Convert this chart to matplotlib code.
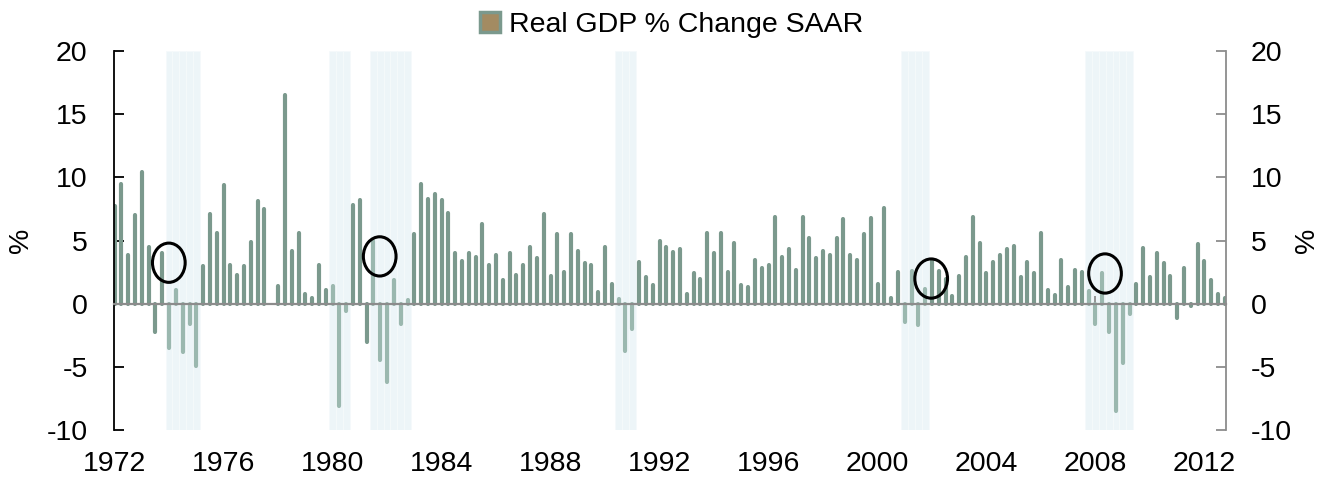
import matplotlib
matplotlib.use('Agg')
import matplotlib.pyplot as plt
from matplotlib.patches import Ellipse, Patch
import numpy as np

plt.rcParams['font.family'] = ['Liberation Sans', 'DejaVu Sans']
plt.rcParams['axes.unicode_minus'] = False

# Real GDP % change SAAR, quarterly 1972Q1 .. 2012Q4
first_year = 1972
gdp = [
    7.7, 9.5, 3.9, 7.0,     # 1972
    10.4, 4.5, -2.2, 4.0,   # 1973
    -3.5, 1.1, -3.8, -1.6,  # 1974
    -4.9, 3.0, 7.1, 5.6,    # 1975
    9.4, 3.1, 2.3, 3.0,     # 1976
    4.9, 8.1, 7.5, 0.0,     # 1977
    1.4, 16.5, 4.2, 5.6,    # 1978
    0.8, 0.5, 3.1, 1.1,     # 1979
    1.4, -8.1, -0.6, 7.8,   # 1980
    8.2, -3.0, 5.0, -4.4,   # 1981
    -6.2, 1.9, -1.6, 0.3,   # 1982
    5.5, 9.5, 8.3, 8.7,     # 1983
    8.2, 7.2, 4.0, 3.4,     # 1984
    4.0, 3.7, 6.3, 3.1,     # 1985
    3.9, 1.9, 4.0, 2.3,     # 1986
    3.1, 4.5, 3.6, 7.1,     # 1987
    2.2, 5.5, 2.5, 5.5,     # 1988
    4.2, 3.2, 3.1, 0.9,     # 1989
    4.5, 1.6, 0.4, -3.7,    # 1990
    -2.0, 3.3, 2.1, 1.5,    # 1991
    5.0, 4.5, 4.1, 4.3,     # 1992
    0.8, 2.4, 2.0, 5.6,     # 1993
    4.0, 5.6, 2.5, 4.8,     # 1994
    1.5, 1.3, 3.5, 2.8,     # 1995
    3.1, 6.9, 3.7, 4.3,     # 1996
    2.7, 6.9, 5.2, 3.6,     # 1997
    4.2, 3.9, 5.2, 6.7,     # 1998
    3.9, 3.5, 5.5, 6.8,     # 1999
    1.6, 7.6, 0.5, 2.5,     # 2000
    -1.4, 2.6, -1.7, 1.2,   # 2001
    3.4, 2.6, 2.0, 0.6,     # 2002
    2.2, 3.7, 6.9, 4.8,     # 2003
    2.4, 3.3, 3.9, 4.3,     # 2004
    4.6, 2.1, 3.3, 2.4,     # 2005
    5.6, 1.1, 0.7, 3.5,     # 2006
    1.3, 2.7, 2.5, 1.0,     # 2007
    -1.6, 2.4, -2.2, -8.5,  # 2008
    -4.7, -0.8, 1.6, 4.4,   # 2009
    2.1, 4.0, 3.2, 2.2,     # 2010
    -1.1, 2.8, -0.2, 4.7,   # 2011
    3.4, 1.9, 0.8, 0.5,     # 2012
]

# recessions, as (first quarter, last quarter)
recessions = [(1974.0, 1975.0), (1980.0, 1980.5), (1981.5, 1982.75),
              (1990.5, 1991.0), (2001.0, 2001.75), (2007.75, 2009.25)]

# circled quarters (annotation ellipses): centre x, centre y
circles = [(1973.99, 3.25), (1981.73, 3.75), (2001.97, 2.0), (2008.35, 2.4)]

year_ticks = list(range(1972, 2013, 4))

dark = '#7b998d'
light = '#9bb8af'
band = '#edf5f8'
fs = 20.5

x = first_year + np.arange(len(gdp)) / 4.0
y = np.array(gdp)
in_rec = np.zeros(len(gdp), dtype=bool)
for a, b in recessions:
    in_rec |= (x >= a - 1e-6) & (x <= b + 1e-6)

fig = plt.figure(figsize=(13.17, 4.79), dpi=100)
ax = fig.add_axes([0.0866, 0.1013, 0.8443, 0.7929])

# recession shading, one column per quarter
rq = x[in_rec]
ax.bar(rq, 30, bottom=-10, width=0.25, color=band, edgecolor='#f5fafb',
       linewidth=0.6, zorder=0)

lc1 = ax.vlines(x[~in_rec], 0, y[~in_rec], color=dark, linewidth=3.0, zorder=2)
lc2 = ax.vlines(x[in_rec], 0, y[in_rec], color=light, linewidth=3.0, zorder=2)
lc1.set_capstyle('round')
lc2.set_capstyle('round')

for cx, cy in circles:
    ax.add_patch(Ellipse((cx, cy), 1.2, 3.1, fill=False, edgecolor='black',
                         linewidth=2.2, zorder=4))

ax.set_xlim(1971.98, 2012.79)
ax.set_ylim(-10, 20)
ax.set_yticks(range(-10, 21, 5))

ax.spines['top'].set_visible(False)
ax.spines['right'].set_visible(False)
ax.spines['left'].set_color('black')
ax.spines['left'].set_linewidth(1.3)
ax.spines['bottom'].set_position(('data', 0))
ax.spines['bottom'].set_color('#8c8c8c')
ax.spines['bottom'].set_linewidth(1.6)
ax.spines['bottom'].set_zorder(3)

ax.set_xticks(year_ticks)
ax.tick_params(axis='x', direction='in', length=6, width=1.3, color='#8c8c8c',
               labelbottom=False)
ax.tick_params(axis='y', direction='in', length=7, width=1.3, color='black',
               labelsize=fs, pad=19)
ax.set_ylabel('%', fontsize=fs, labelpad=9)

# year labels at the bottom of the plot area
sec = ax.secondary_xaxis('bottom')
sec.set_xticks(year_ticks)
sec.set_xticklabels([str(t) for t in year_ticks])
sec.spines['bottom'].set_visible(False)
sec.tick_params(axis='x', length=0, labelsize=fs, pad=15)

# right-hand axis
ax2 = ax.twinx()
ax2.set_ylim(ax.get_ylim())
ax2.set_yticks(range(-10, 21, 5))
for s in ['top', 'left', 'bottom']:
    ax2.spines[s].set_visible(False)
ax2.spines['right'].set_color('#8c8c8c')
ax2.spines['right'].set_linewidth(1.3)
ax2.tick_params(axis='y', direction='in', length=7, width=1.3, color='#8c8c8c',
                labelsize=fs, pad=18)
ax2.set_ylabel('%', fontsize=fs, labelpad=1)

handle = Patch(facecolor='#a38b62', edgecolor=dark, linewidth=2.5)
fig.legend([handle], ['Real GDP % Change SAAR'], loc='center',
           bbox_to_anchor=(0.51, 0.948), frameon=False, fontsize=fs,
           handlelength=0.7, handleheight=0.7, handletextpad=0.3)

fig.savefig('out.png', dpi=100)
